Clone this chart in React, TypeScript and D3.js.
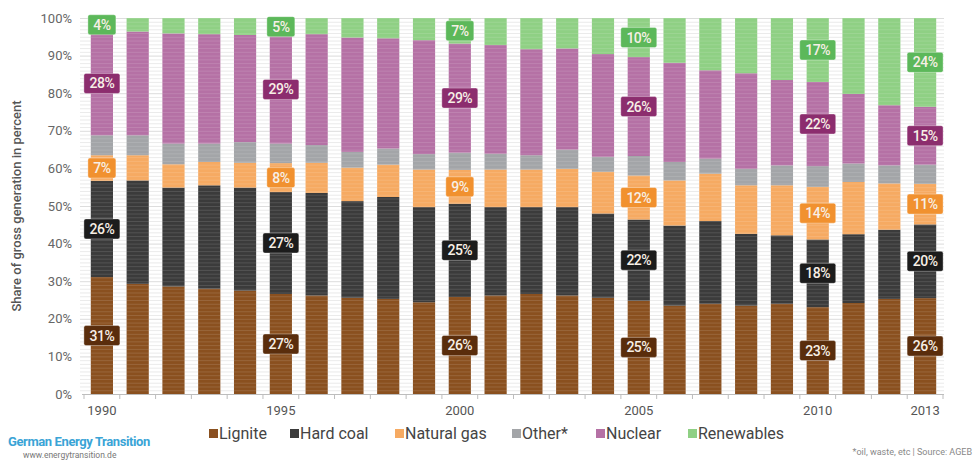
import React from "react";
import * as d3 from "d3";

const years = d3.range(1990, 2014).map(String);
const lignite = [31.1, 29.3, 28.6, 28.0, 27.5, 26.6, 26.2, 25.6, 25.3, 24.4, 25.8, 26.2, 26.6, 26.2, 25.6, 24.8, 23.5, 24.0, 23.5, 24.0, 23.1, 24.2, 25.3, 25.5];
const hardCoal = [25.6, 27.5, 26.3, 27.5, 27.4, 27.1, 27.3, 25.7, 27.1, 25.3, 24.8, 23.5, 23.1, 23.5, 22.4, 21.6, 21.3, 22.0, 19.1, 18.2, 18.0, 18.3, 18.4, 19.6];
const naturalGas = [6.8, 6.7, 6.2, 6.2, 6.6, 7.7, 8.0, 8.9, 8.6, 10.0, 9.0, 10.0, 10.0, 10.2, 11.1, 11.7, 12.0, 12.6, 12.9, 13.3, 14.0, 13.9, 12.3, 10.8];
const other = [5.3, 5.3, 5.5, 4.9, 5.5, 5.2, 4.7, 4.2, 4.3, 4.1, 4.6, 4.2, 3.8, 5.1, 4.0, 5.2, 4.9, 4.0, 4.4, 5.3, 5.5, 4.9, 4.8, 5.1];
const nuclear = [27.6, 27.6, 29.3, 29.1, 28.5, 28.8, 29.5, 30.4, 29.3, 30.3, 29.0, 28.9, 28.2, 26.9, 27.3, 26.3, 26.4, 23.5, 25.4, 22.7, 22.4, 18.5, 16.0, 15.4];
const renewables = [3.6, 3.6, 4.1, 4.3, 4.5, 4.6, 4.3, 5.2, 5.4, 5.9, 6.8, 7.2, 8.3, 8.1, 9.6, 10.4, 11.9, 13.9, 14.7, 16.5, 17.0, 20.2, 23.2, 23.6];

const seriesNames = ["Lignite", "Hard coal", "Natural gas", "Other*", "Nuclear", "Renewables"];
const seriesValues = [lignite, hardCoal, naturalGas, other, nuclear, renewables];
const seriesColors = ["#8a501f", "#3b3b3b", "#f6aa62", "#a3a5a8", "#b571a5", "#8fd084"];
const labelColors = ["#5a2d0c", "#1c1c1c", "#f1912f", null, "#8c2d6e", "#5cb85a"];
const labelYears = ["1990", "1995", "2000", "2005", "2010", "2013"];
const tickYears = ["1990", "1995", "2000", "2005", "2010", "2013"];
const yTicks = d3.range(0, 101, 10);

export default function App() {
  const W = 975, H = 461;
  const x = d3.scaleBand<string>().domain(years).range([84, 943]).paddingInner(0.38).paddingOuter(0.19);
  const y = d3.scaleLinear().domain([0, 100]).range([394, 18]);

  const rows = years.map((yr, i) => {
    const r: any = { year: yr };
    seriesNames.forEach((n, k) => (r[n] = seriesValues[k][i]));
    return r;
  });
  const stacked = d3.stack().keys(seriesNames)(rows as any);

  const font = "Roboto, 'DejaVu Sans', sans-serif";
  const gridLines = d3.range(1, 101, 1);
  const step = x.step();
  const tickXs = d3.range(0, years.length + 1).map((i) => 84 + i * step);

  return (
    <svg width={W} height={H} style={{ position: "absolute", left: 0, top: 0, background: "#fff" }} fontFamily={font}>
      <rect width={W} height={H} fill="#fff" />
      {/* grid */}
      <g>
        {gridLines.map((g) => (
          <line key={g} x1={80} x2={944} y1={y(g) + 0.5} y2={y(g) + 0.5} stroke={g % 10 === 0 ? "#d9d9d9" : "#e9e9e9"} strokeWidth={1} />
        ))}
      </g>
      {/* bars */}
      {stacked.map((s, k) => (
        <g key={s.key} fill={seriesColors[k]}>
          {s.map((d: any, i: number) => (
            <rect key={i} x={x(years[i])} width={x.bandwidth()} y={y(d[1])} height={y(d[0]) - y(d[1])} />
          ))}
        </g>
      ))}
      {/* faint stripes over bars */}
      <g opacity={0.12}>
        {gridLines.map((g) => (
          <line key={g} x1={80} x2={944} y1={y(g) + 0.5} y2={y(g) + 0.5} stroke="#fff" strokeWidth={1} />
        ))}
      </g>
      {/* x axis */}
      <line x1={82} x2={944} y1={394.5} y2={394.5} stroke="#bdbdbd" />
      {tickXs.map((tx, i) => (
        <line key={i} x1={tx} x2={tx} y1={394} y2={399} stroke="#bdbdbd" />
      ))}
      {tickYears.map((t) => (
        <text key={t} x={(x(t) as number) + x.bandwidth() / 2} y={415} textAnchor="middle" fontSize={13} fill="#555">
          {t}
        </text>
      ))}
      {/* y axis labels */}
      {yTicks.map((t) => (
        <text key={t} x={72} y={y(t) + 4.5} textAnchor="end" fontSize={13} fill="#666">
          {t}%
        </text>
      ))}
      <text transform={`translate(21,${206}) rotate(-90)`} textAnchor="middle" fontSize={13} fontWeight={500} fill="#555">
        Share of gross generation in percent
      </text>
      {/* value labels */}
      {stacked.map((s, k) =>
        labelColors[k]
          ? labelYears.map((yr) => {
              const i = years.indexOf(yr);
              const d: any = s[i];
              const txt = `${Math.round(seriesValues[k][i])}%`;
              const w = txt.length === 2 ? 28 : 36;
              const cx = (x(yr) as number) + x.bandwidth() / 2;
              const cy = y((d[0] + d[1]) / 2);
              return (
                <g key={s.key + yr}>
                  <rect x={cx - w / 2} y={cy - 10} width={w} height={20} rx={2} fill={labelColors[k] as string} stroke="#ffffff" strokeOpacity={0.35} />
                  <text x={cx} y={cy + 5} textAnchor="middle" fontSize={14} fontWeight={500} fill="#f7efe6" letterSpacing={-0.5}>
                    {txt}
                  </text>
                </g>
              );
            })
          : null
      )}
      {/* legend */}
      {(() => {
        const lx = [209, 290, 395, 512, 596, 688];
        return seriesNames.map((n, k) => (
          <g key={n}>
            <rect x={lx[k]} y={429} width={9} height={9} fill={seriesColors[k]} />
            <text x={lx[k] + 10} y={439} fontSize={16} fill="#444">
              {n}
            </text>
          </g>
        ));
      })()}
      {/* branding */}
      <text x={8} y={446} fontSize={13} fontWeight={700} fill="#3aa4d6" letterSpacing={-0.4}>
        German Energy Transition
      </text>
      <text x={23} y={458} fontSize={8.5} fill="#777">
        www.energytransition.de
      </text>
      <text x={972} y={455} textAnchor="end" fontSize={9} fill="#888">
        *oil, waste, etc | Source: AGEB
      </text>
    </svg>
  );
}
